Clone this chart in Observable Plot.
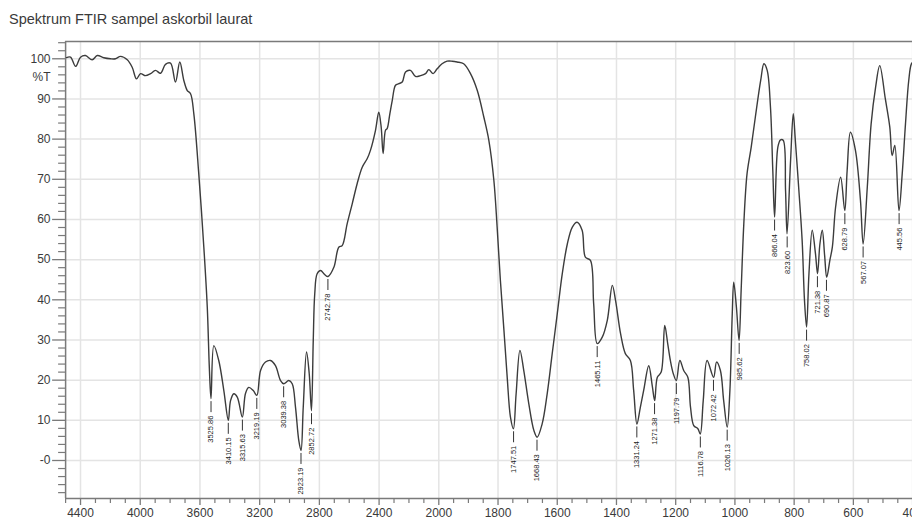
<!DOCTYPE html>
<html>
<head>
<meta charset="utf-8">
<script src="https://cdn.jsdelivr.net/npm/d3@7"></script>
<script src="https://cdn.jsdelivr.net/npm/@observablehq/plot@0.6"></script>
<style>
  html, body { margin: 0; padding: 0; background: #fff; }
  #wrap { position: relative; width: 912px; height: 521px; overflow: hidden; }
  #title { position: absolute; left: 9px; top: 12px; font: 14.5px/14px "Liberation Sans", Arial, sans-serif; color: #3a3a3a; white-space: nowrap; }
  #chart { position: absolute; left: 0; top: 0; }
</style>
</head>
<body>
<div id="wrap">
  <div id="chart"></div>
  <div id="title">Spektrum FTIR sampel askorbil laurat</div>
</div>
<script>
// ---- data ----
const wavenumber = [
  4494, 4467, 4433, 4400, 4367, 4322, 4288, 4244, 4199, 4166,
  4132, 4087, 4054, 4025, 3998, 3965, 3931, 3898, 3864, 3831,
  3797, 3764, 3735, 3708, 3685, 3663, 3641, 3608, 3574, 3551,
  3537, 3526, 3507, 3474, 3440, 3410, 3395, 3373, 3350, 3316,
  3295, 3273, 3243, 3219, 3194, 3161, 3127, 3094, 3060, 3039,
  3005, 2982, 2960, 2938, 2923, 2908, 2886, 2868, 2853, 2841,
  2831, 2815, 2792, 2765, 2742, 2703, 2670, 2647, 2614, 2580,
  2547, 2513, 2480, 2458, 2424, 2402, 2386, 2373, 2357, 2346,
  2328, 2312, 2290, 2268, 2245, 2223, 2190, 2156, 2123, 2089,
  2067, 2038, 2011, 1989, 1972, 1955, 1938, 1916, 1893, 1870,
  1848, 1831, 1814, 1803, 1792, 1780, 1769, 1758, 1748, 1739,
  1726, 1713, 1696, 1679, 1668, 1651, 1634, 1617, 1600, 1583,
  1566, 1549, 1533, 1516, 1505, 1488, 1477, 1465, 1448, 1431,
  1414, 1403, 1386, 1370, 1353, 1342, 1331, 1320, 1308, 1291,
  1279, 1271, 1262, 1249, 1237, 1227, 1218, 1208, 1198, 1186,
  1173, 1159, 1150, 1139, 1125, 1117, 1107, 1094, 1072, 1062,
  1049, 1038, 1026, 1017, 1009, 1004, 995, 986, 979, 970,
  959, 945, 931, 913, 902, 891, 880, 872, 866, 855,
  846, 837, 829, 824, 812, 803, 796, 784, 773, 765,
  758, 750, 739, 728, 721, 713, 705, 697, 690, 679,
  671, 660, 643, 629, 621, 610, 593, 576, 567, 553,
  540, 525, 511, 492, 477, 469, 460, 446, 435, 424,
  413, 404, 395
];
const transmittance = [
  100.3, 100.4, 98.1, 100.4, 100.8, 99.75, 100.8, 100.25, 100.0, 100.0,
  100.6, 99.75, 97.9, 95.0, 96.3, 95.8, 96.3, 97.1, 96.4, 98.6,
  98.9, 94.2, 99.2, 94.6, 92.1, 91.3, 86.3, 71.4, 53.1, 38.2,
  23.0, 15.4, 28.6, 24.9, 17.4, 10.0, 14.9, 16.6, 15.8, 10.8,
  16.7, 18.2, 17.4, 16.2, 22.4, 24.5, 24.9, 23.6, 19.9, 19.1,
  19.9, 19.1, 13.3, 5.0, 2.5, 13.3, 27.0, 21.6, 12.4, 29.9,
  41.5, 46.5, 47.3, 46.3, 45.8, 48.1, 53.1, 53.5, 58.9, 63.9,
  68.9, 73.0, 75.1, 77.2, 82.2, 86.7, 83.0, 76.4, 82.2, 82.6,
  86.3, 89.6, 93.4, 93.8, 94.2, 96.7, 97.1, 95.6, 95.8, 96.3,
  97.3, 96.3, 97.5, 98.75, 99.4, 99.4, 99.2, 98.75, 96.3, 92.1,
  85.5, 79.7, 69.7, 58.1, 44.8, 32.4, 20.7, 10.8, 7.9, 16.5,
  27.4, 22.4, 14.1, 7.5, 5.8, 9.1, 16.6, 26.6, 36.5, 46.5,
  53.9, 58.1, 59.3, 57.3, 50.6, 49.8, 39.0, 29.1, 30.7, 34.9,
  43.6, 39.8, 31.5, 26.6, 24.9, 17.5, 9.1, 13.0, 17.5, 23.6,
  18.5, 14.9, 20.7, 22.0, 33.6, 29.1, 24.9, 21.6, 19.9, 24.9,
  22.4, 20.7, 13.3, 8.7, 7.9, 6.6, 14.9, 24.9, 20.7, 24.5,
  22.4, 14.9, 8.3, 17.4, 36.5, 44.4, 38.2, 29.9, 42.3, 58.9,
  71.4, 78.0, 85.5, 94.6, 98.75, 97.1, 88.0, 72.0, 60.6, 78.0,
  79.8, 79.7, 67.2, 56.4, 74.7, 86.3, 79.7, 67.2, 54.8, 39.8,
  33.2, 46.5, 57.3, 51.5, 46.5, 53.9, 57.3, 51.0, 45.6, 50.0,
  53.1, 63.1, 70.5, 62.2, 72.2, 81.7, 77.2, 64.7, 53.9, 68.0,
  83.8, 92.9, 98.3, 90.0, 83.0, 75.9, 78.4, 62.2, 71.4, 83.8,
  94.6, 98.75, 99.5
];

const peakWavenumbers = [3525.86, 3410.15, 3315.63, 3219.19, 3039.38, 2923.19, 2852.72, 2742.78,
  1747.51, 1668.43, 1465.11, 1331.24, 1271.38, 1197.79, 1116.78, 1072.42, 1026.13, 985.62,
  866.04, 823.60, 758.02, 721.38, 690.87, 628.79, 567.07, 445.56];
const peakTransmittance = [15.4, 10.0, 10.8, 16.2, 19.1, 2.5, 12.4, 45.8,
  7.9, 5.8, 29.1, 9.1, 14.9, 19.9, 6.6, 20.7, 8.3, 29.9,
  60.6, 56.4, 33.2, 46.5, 45.6, 62.2, 53.9, 62.2];

const xTickValues = [4400, 4000, 3600, 3200, 2800, 2400, 2000, 1800, 1600, 1400, 1200, 1000, 800, 600, 400];
const xTickLabels = ["4400", "4000", "3600", "3200", "2800", "2400", "2000", "1800", "1600", "1400", "1200", "1000", "800", "600", "400"];
const yTickValues = [100, 95.5, 90, 80, 70, 60, 50, 40, 30, 20, 10, 0];
const yTickLabels = ["100", "%T", "90", "80", "70", "60", "50", "40", "30", "20", "10", "-0"];
const yGridValues = [100, 90, 80, 70, 60, 50, 40, 30, 20, 10, 0];

// ---- layout constants ----
const W = 912, H = 521;
const xDomain = [4500, 2000, 350];
const xRange = [65.1, 438.3, 926.9];
const yLo = -9.46, yHi = 104.3;
const pxPerT = 4.017;
const pxPerWnHigh = (xRange[1] - xRange[0]) / (xDomain[0] - xDomain[1]);

const spectrum = wavenumber.map((w, i) => ({w, t: transmittance[i]}));
const peaks = peakWavenumbers.map((w, i) => ({w, t: peakTransmittance[i], label: peakWavenumbers[i].toFixed(2)}));

const xMinor = d3.range(4500, 2000, -100).concat(d3.range(2000, 349, -50)).filter(v => !xTickValues.includes(v));
const yMinor = d3.range(-8, 105, 2).filter(v => v % 10 !== 0);

const yTickFmt = new Map(yTickValues.map((v, i) => [v, yTickLabels[i]]));
const xTickFmt = new Map(xTickValues.map((v, i) => [v, xTickLabels[i]]));

const gridColor = "#e4e4e4";
const frameColor = "#7a7a7a";
const inkColor = "#3c3c3c";

const chart = Plot.plot({
  width: W,
  height: H,
  marginLeft: 65,
  marginRight: 0,
  marginTop: 41,
  marginBottom: 23,
  style: {fontFamily: "'Liberation Sans', Arial, sans-serif", fontSize: "12px", color: "#3a3a3a", background: "#fff"},
  x: {type: "linear", domain: xDomain, range: xRange, ticks: xTickValues, tickSize: 0, tickPadding: 10,
      tickFormat: d => xTickFmt.get(d) ?? "", label: null},
  y: {domain: [yLo, yHi], ticks: yTickValues, tickSize: 0, tickPadding: 15,
      tickFormat: d => yTickFmt.get(d) ?? "", label: null},
  marks: [
    // grid
    Plot.ruleX(xTickValues, {y1: yLo, y2: yHi, stroke: gridColor, strokeWidth: 1.5}),
    Plot.ruleY(yGridValues, {x1: xDomain[0], x2: xDomain[2], stroke: gridColor, strokeWidth: 1.5}),
    // frame (top, bottom, left)
    Plot.ruleY([yHi, yLo], {x1: xDomain[0], x2: xDomain[2], stroke: frameColor, strokeWidth: 1.5}),
    Plot.ruleX([xDomain[0]], {y1: yLo, y2: yHi, stroke: frameColor, strokeWidth: 1.5}),
    // y ticks (outside, to the left)
    Plot.ruleY(yGridValues, {x1: xDomain[0], x2: xDomain[0] + 13 / pxPerWnHigh, stroke: frameColor, strokeWidth: 1.3}),
    Plot.ruleY(yMinor, {x1: xDomain[0], x2: xDomain[0] + 7 / pxPerWnHigh, stroke: frameColor, strokeWidth: 1.2}),
    // x ticks (below)
    Plot.ruleX(xTickValues, {y1: yLo, y2: yLo - 7 / pxPerT, stroke: frameColor, strokeWidth: 1.3}),
    Plot.ruleX(xMinor, {y1: yLo, y2: yLo - 5 / pxPerT, stroke: frameColor, strokeWidth: 1.2}),
    // spectrum
    Plot.line(spectrum, {x: "w", y: "t", stroke: inkColor, strokeWidth: 1.4, curve: "catmull-rom"}),
    // peak markers
    Plot.ruleX(peaks, {x: "w", y1: d => d.t - 3 / pxPerT, y2: d => d.t - 14 / pxPerT, stroke: "#333", strokeWidth: 1}),
    Plot.text(peaks, {x: "w", y: d => d.t - 17 / pxPerT, text: "label", rotate: -90, textAnchor: "end",
      lineAnchor: "middle", fontSize: 7.5, fill: "#222"})
  ]
});
document.getElementById("chart").appendChild(chart);
</script>
</body>
</html>
